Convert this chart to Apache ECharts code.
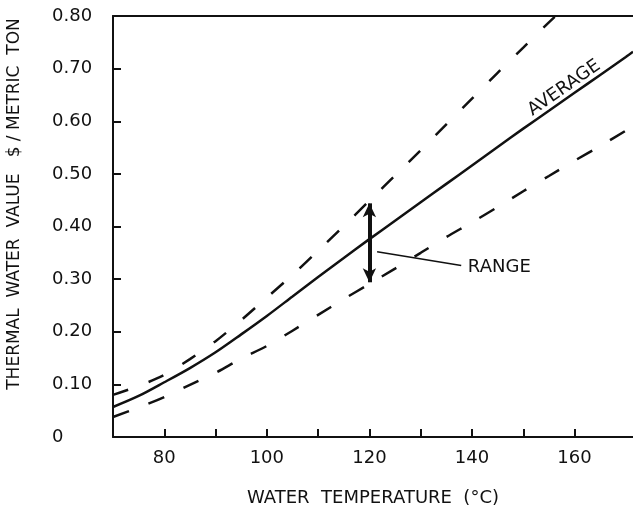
<!DOCTYPE html>
<html>
<head>
<meta charset="utf-8">
<script src="https://cdn.jsdelivr.net/npm/echarts@6/dist/echarts.min.js"></script>
<style>
  html, body { margin: 0; background: #fff; }
  #chart { width: 633px; height: 508px; }
</style>
</head>
<body>
<div id="chart"></div>
<script>
// values (temperature in °C, value in $/metric ton)
const averageTemp = [70, 75, 80, 85, 90, 95, 100, 105, 110, 115, 120, 125, 130, 135, 140, 145, 150, 155, 160, 165, 170, 171.4]
const averageValue = [0.057, 0.078, 0.104, 0.131, 0.161, 0.195, 0.230, 0.267, 0.304, 0.340, 0.376, 0.411, 0.446, 0.481, 0.516, 0.551, 0.586, 0.620, 0.654, 0.688, 0.722, 0.732]

const upperTemp = [70, 75, 80, 85, 90, 95, 100, 105, 110, 115, 120, 125, 130, 135, 140, 145, 150, 155, 156.3]
const upperValue = [0.080, 0.097, 0.118, 0.148, 0.182, 0.222, 0.265, 0.308, 0.354, 0.401, 0.449, 0.497, 0.545, 0.594, 0.643, 0.692, 0.740, 0.788, 0.800]

const lowerTemp = [70, 75, 80, 85, 90, 95, 100, 105, 110, 115, 120, 125, 130, 135, 140, 145, 150, 155, 160, 165, 170, 171.4]
const lowerValue = [0.038, 0.056, 0.076, 0.099, 0.122, 0.149, 0.173, 0.202, 0.232, 0.262, 0.291, 0.320, 0.350, 0.380, 0.408, 0.437, 0.467, 0.496, 0.525, 0.553, 0.582, 0.590]

const xTicks = [80, 90, 100, 110, 120, 130, 140, 150, 160]
const xLabels = [80, 100, 120, 140, 160]
const yTicks = [0.1, 0.2, 0.3, 0.4, 0.5, 0.6, 0.7]
const yLabels = [0, 0.1, 0.2, 0.3, 0.4, 0.5, 0.6, 0.7, 0.8]

// range arrow at 120 °C, and the leader line to its label
const rangeArrow = [[120, 0.444], [120, 0.294]]
const rangeLeader = [[121.5, 0.352], [137.9, 0.326]]
const rangeLabelAt = [139.2, 0.3225]
const averageLabelAt = [158.0, 0.663]

const zip = (xs, ys) => xs.map((x, i) => [x, ys[i]])

const font = 'DejaVu Sans'
const ink = '#111'

const chart = echarts.init(document.getElementById('chart'))

chart.setOption({
  animation: false,
  grid: { left: 113, right: 0, top: 16, bottom: 71, containLabel: false, outerBoundsMode: 'none' },
  xAxis: [
    {
      type: 'value',
      min: 70,
      max: 171.4,
      interval: 10,
      splitLine: { show: false },
      axisLine: { lineStyle: { color: ink, width: 2 } },
      axisTick: { inside: true, length: 8, customValues: xTicks, lineStyle: { color: ink, width: 2 } },
      axisLabel: {
        customValues: xLabels,
        margin: 12,
        color: ink,
        fontFamily: font,
        fontSize: 18
      },
      name: 'WATER  TEMPERATURE  (°C)',
      nameLocation: 'middle',
      nameGap: 52,
      nameTextStyle: { color: ink, fontFamily: font, fontSize: 18 }
    },
    {
      type: 'value',
      position: 'top',
      min: 70,
      max: 171.4,
      axisLine: { show: true, lineStyle: { color: ink, width: 2 } },
      axisTick: { show: false },
      axisLabel: { show: false },
      splitLine: { show: false }
    }
  ],
  yAxis: {
    type: 'value',
    min: 0,
    max: 0.8,
    interval: 0.1,
    splitLine: { show: false },
    axisLine: { show: true, lineStyle: { color: ink, width: 2 } },
    axisTick: { inside: true, length: 8, customValues: yTicks, lineStyle: { color: ink, width: 2 } },
    axisLabel: {
      customValues: yLabels,
      align: 'left',
      margin: 61,
      color: ink,
      fontFamily: font,
      fontSize: 18,
      formatter: v => (v === 0 ? '0' : v.toFixed(2))
    }
  },
  graphic: [
    {
      type: 'text',
      x: 15,
      y: 204,
      rotation: Math.PI / 2,
      style: {
        text: 'THERMAL  WATER  VALUE   $ / METRIC  TON',
        fill: ink,
        font: '17px "DejaVu Sans"',
        align: 'center',
        verticalAlign: 'middle'
      }
    }
  ],
  series: [
    {
      name: 'Average',
      type: 'line',
      data: zip(averageTemp, averageValue),
      smooth: 0.3,
      showSymbol: false,
      lineStyle: { color: ink, width: 2.5 }
    },
    {
      name: 'Upper',
      type: 'line',
      data: zip(upperTemp, upperValue),
      smooth: 0.3,
      showSymbol: false,
      lineStyle: { color: ink, width: 2.5, type: [16, 22] }
    },
    {
      name: 'Lower',
      type: 'line',
      data: zip(lowerTemp, lowerValue),
      smooth: 0.3,
      showSymbol: false,
      lineStyle: { color: ink, width: 2.5, type: [17, 21] }
    },
    {
      name: 'Range',
      type: 'line',
      data: rangeLeader,
      showSymbol: false,
      lineStyle: { color: ink, width: 1.5 },
      markLine: {
        silent: true,
        symbol: ['arrow', 'arrow'],
        symbolSize: [10, 14],
        label: { show: false },
        lineStyle: { color: ink, width: 4, type: 'solid' },
        data: [[{ coord: rangeArrow[0] }, { coord: rangeArrow[1] }]]
      }
    },
    {
      name: 'labels',
      type: 'scatter',
      symbolSize: 0,
      silent: true,
      itemStyle: { opacity: 1 },
      data: [
        {
          value: rangeLabelAt,
          label: { show: true, formatter: 'RANGE', position: 'right', distance: 0, color: ink, fontFamily: font, fontSize: 18 }
        },
        {
          value: averageLabelAt,
          label: { show: true, formatter: 'AVERAGE', position: 'inside', rotate: 35, color: ink, fontFamily: font, fontSize: 18 }
        }
      ]
    }
  ]
})
</script>
</body>
</html>
